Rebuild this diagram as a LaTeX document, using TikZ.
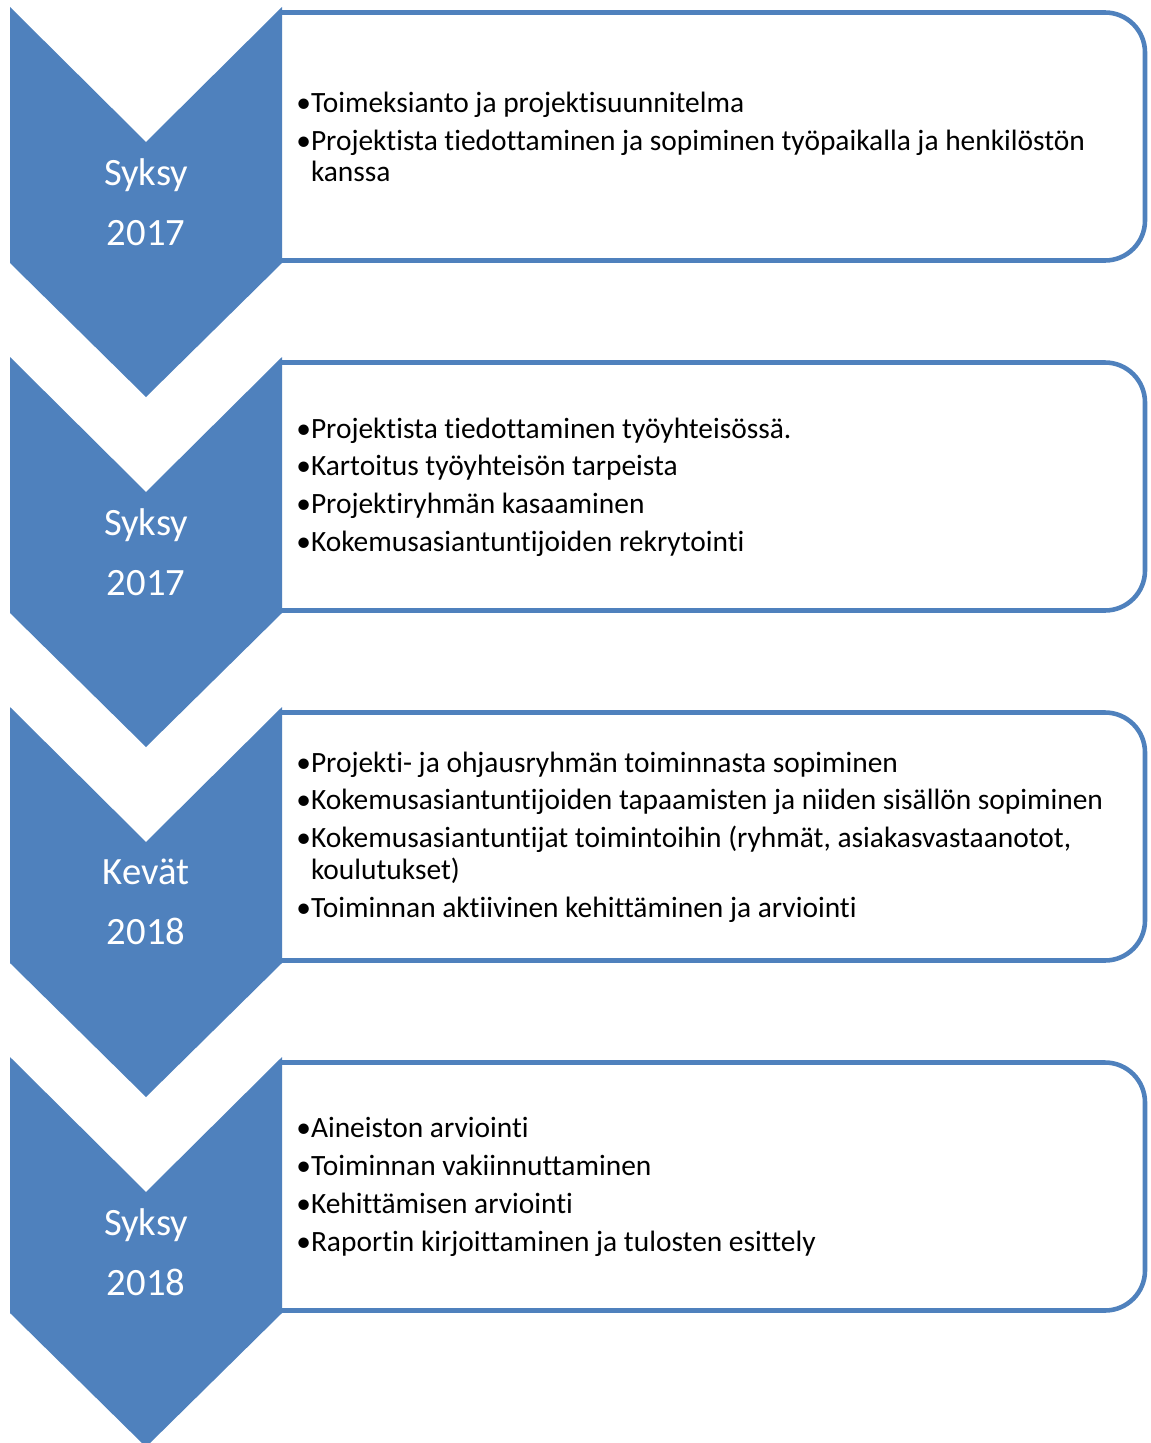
\documentclass[tikz,border=0pt]{standalone}
\usepackage{fontspec}
\setmainfont{Carlito}[Ligatures=NoCommon]
\usetikzlibrary{positioning}
\definecolor{chevblue}{HTML}{4F81BD}
\tikzset{
  chevron/.style={fill=chevblue},
  stagebox/.style={draw=chevblue,fill=white,line width=2.6pt,rounded corners=0.8cm},
  yearlabel/.style={text=white,align=center,inner sep=0pt,font=\fontsize{22}{34}\selectfont},
  itemlist/.style={anchor=west,align=left,inner sep=0pt,font=\fontsize{16.75}{18.1}\selectfont}
}
\newcommand\bul{•}
\newcommand\cont{\phantom{•}}

\begin{document}
\begin{tikzpicture}[x=0.02cm,y=-0.02cm]
\useasboundingbox (0,0) rectangle (1150,1443);
\clip (0,0) rectangle (1150,1443);
% boxes first, chevrons on top
\foreach \k in {0,1,2,3} {
  \draw[stagebox] (282,12.5+350*\k) -- (1145,12.5+350*\k) -- (1145,260.5+350*\k) -- (282,260.5+350*\k);
  \fill[chevron] (10,7+350*\k) -- (146,142+350*\k) -- (282,7+350*\k) -- (282,263+350*\k)
    -- (146,397+350*\k) -- (10,263+350*\k) -- cycle;
}
\node[yearlabel] (y1) at (146,202) {Syksy\\2017};
\node[yearlabel] (y2) at (146,552) {Syksy\\2017};
\node[yearlabel] (y3) at (146,902) {Kevät\\2018};
\node[yearlabel] (y4) at (146,1252) {Syksy\\2018};

\node[itemlist] (list1) at (296,137) {\bul Toimeksianto ja projektisuunnitelma\\[3.4pt]
  \bul Projektista tiedottaminen ja sopiminen työpaikalla ja henkilöstön\\\cont kanssa};
\node[itemlist] (list2) at (296,487) {\bul Projektista tiedottaminen työyhteisössä.\\[3.4pt]
  \bul Kartoitus työyhteisön tarpeista\\[3.4pt]
  \bul Projektiryhmän kasaaminen\\[3.4pt]
  \bul Kokemusasiantuntijoiden rekrytointi};
\node[itemlist] (list3) at (296,837) {\bul Projekti- ja ohjausryhmän toiminnasta sopiminen\\[3.4pt]
  \bul Kokemusasiantuntijoiden tapaamisten ja niiden sisällön sopiminen\\[3.4pt]
  \bul Kokemusasiantuntijat toimintoihin (ryhmät, asiakasvastaanotot,\\\cont koulutukset)\\[3.4pt]
  \bul Toiminnan aktiivinen kehittäminen ja arviointi};
\node[itemlist] (list4) at (296,1187) {\bul Aineiston arviointi\\[3.4pt]
  \bul Toiminnan vakiinnuttaminen\\[3.4pt]
  \bul Kehittämisen arviointi\\[3.4pt]
  \bul Raportin kirjoittaminen ja tulosten esittely};
\end{tikzpicture}
\end{document}
